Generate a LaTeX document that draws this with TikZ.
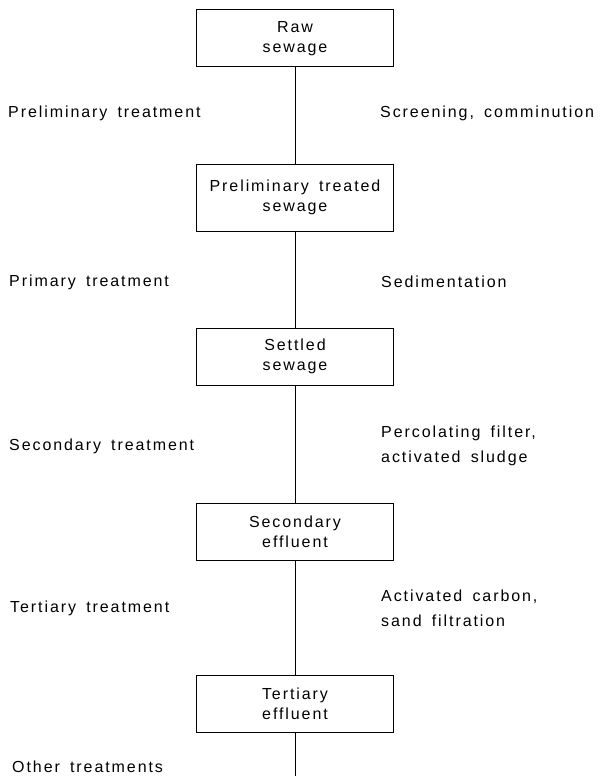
\documentclass[tikz,border=0pt]{standalone}
\usepackage{fontspec}
\setmainfont{Liberation Sans}[LetterSpace=12, WordSpace=1.6]
\usepackage{tikz}
\usetikzlibrary{positioning}

\begin{document}
\begin{tikzpicture}[x=1pt, y=-1pt,
  stagebox/.style={draw, line width=1pt, minimum width=197pt, minimum height=57pt,
    align=center, inner sep=0pt, font=\fontsize{16}{20}\selectfont},
  proclabel/.style={anchor=west, align=left, inner sep=0pt,
    font=\fontsize{16}{25}\selectfont}]
\useasboundingbox (0,0) rectangle (605,776);

% Stages of the sewage
\node[stagebox] (raw) at (295,38.5) {Raw\\sewage};
\node[stagebox, minimum height=67pt] (prelim) at (295,197.5) {Preliminary treated\\sewage};
\node[stagebox] (settled) at (295,356.5) {Settled\\sewage};
\node[stagebox] (secondary) at (295,532) {Secondary\\effluent};
\node[stagebox] (tertiary) at (295,704) {Tertiary\\effluent};
\coordinate (outlet) at (295,776);

% Flow line
\draw[line width=1pt] (raw) -- (prelim);
\draw[line width=1pt] (prelim) -- (settled);
\draw[line width=1pt] (settled) -- (secondary);
\draw[line width=1pt] (secondary) -- (tertiary);
\draw[line width=1pt] (tertiary) -- (outlet);

% Treatment names (left)
\node[proclabel] (prelimtreat) at (8,113) {Preliminary treatment};
\node[proclabel] (primtreat) at (9,282) {Primary treatment};
\node[proclabel] (sectreat) at (9,446) {Secondary treatment};
\node[proclabel] (terttreat) at (10,608) {Tertiary treatment};
\node[proclabel] (othertreat) at (12,767) {Other treatments};

% Processes (right)
\node[proclabel] (screening) at (380,113) {Screening, comminution};
\node[proclabel] (sediment) at (381,282) {Sedimentation};
\node[proclabel] (percol) at (381,446) {Percolating filter,\\activated sludge};
\node[proclabel] (carbon) at (381,608) {Activated carbon,\\sand filtration};

\end{tikzpicture}
\end{document}
